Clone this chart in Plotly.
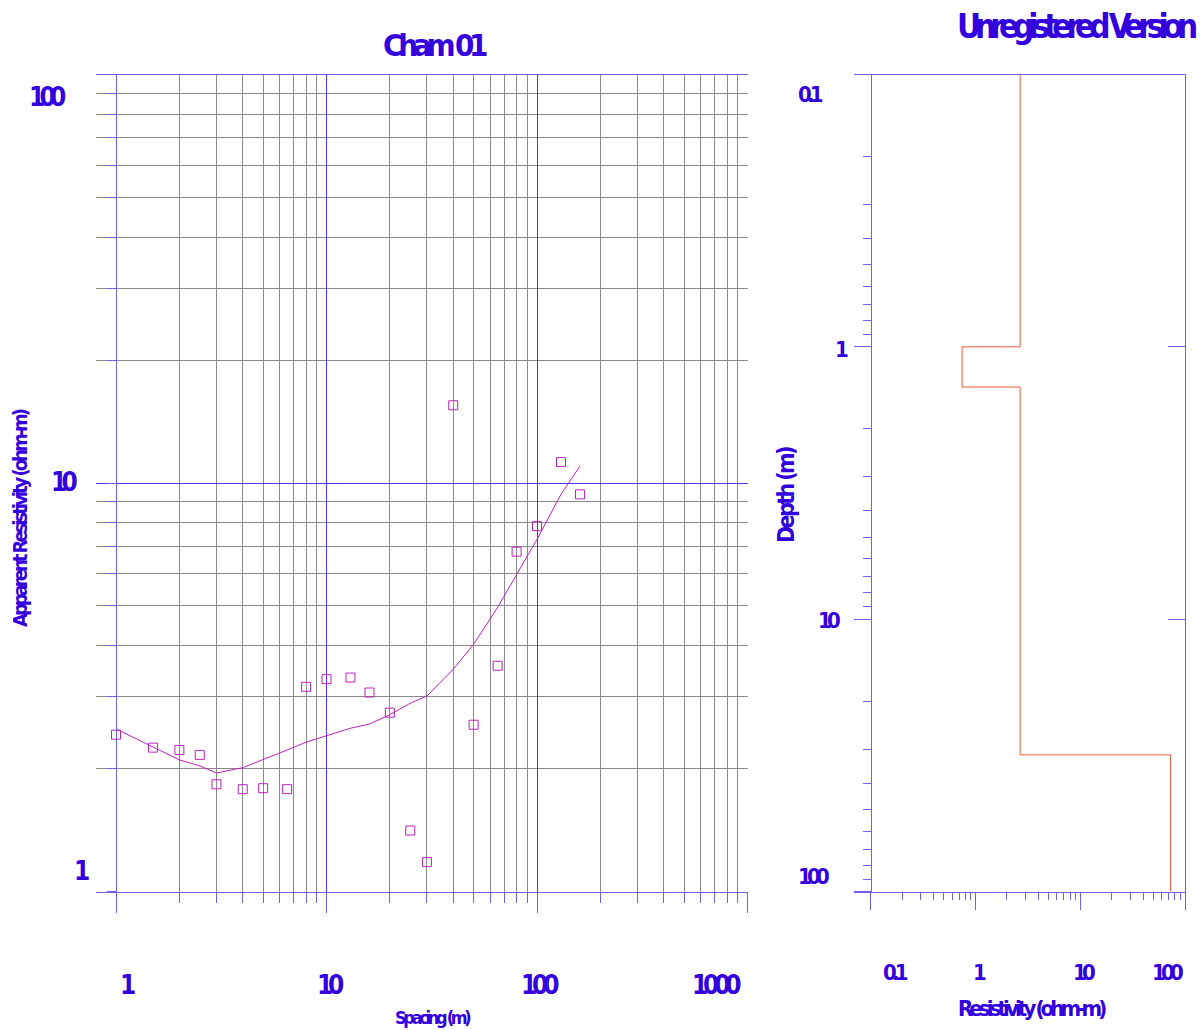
import plotly.graph_objects as go

# ---------------- data ----------------
spacing = [1, 1.5, 2, 2.5, 3, 4, 5, 6.5, 8, 10, 13, 16, 20, 25, 30, 40, 50, 65, 80, 100, 130, 160]
observed = [2.42, 2.25, 2.22, 2.16, 1.83, 1.78, 1.79, 1.78, 3.17, 3.31, 3.34, 3.07, 2.74, 1.41,
            1.18, 15.5, 2.56, 3.57, 6.79, 7.84, 11.25, 9.38]
calculated = [2.50, 2.26, 2.10, 2.03, 1.95, 2.01, 2.10, 2.22, 2.32, 2.41, 2.51, 2.57, 2.71, 2.89,
              3.01, 3.50, 4.03, 4.96, 5.98, 7.28, 9.38, 11.0]

layer_resistivity = [2.67, 0.746, 2.67, 72.8]
layer_bottom_depth = [1.0, 1.405, 31.5]
depth_top, depth_bottom = 0.1, 100

left_x_ticks = [1, 10, 100, 1000]
left_y_ticks = [1, 10, 100]
right_x_ticks = [0.1, 1, 10, 100]
right_y_ticks = [0.1, 1, 10, 100]

# ---------------- style ----------------
W, H = 1201, 1030
TXT = "#3300DD"
AX = "#6F5FEF"
GRID_MAJ = "#4433FF"
GRID_MIN = "#8a8a8a"
FIT = "#BB22BB"
MODEL = "#EE5A3C"
FONT = "DejaVu Sans Condensed, Liberation Sans Narrow, sans-serif"


def px(x):
    return x / W


def py(y):
    return 1 - y / H


def minors(decades, lo=2, hi=9):
    return [d * k for d in decades for k in range(lo, hi + 1)]


# step profile for the layered model
mx, my = [], []
tops = [depth_top] + layer_bottom_depth
bots = layer_bottom_depth + [depth_bottom]
for r, t, b in zip(layer_resistivity, tops, bots):
    mx += [r, r]
    my += [t, b]

fig = go.Figure()
fig.add_trace(go.Scatter(x=spacing, y=calculated, mode="lines",
                         line=dict(color=FIT, width=1), xaxis="x", yaxis="y",
                         hoverinfo="skip", showlegend=False))
fig.add_trace(go.Scatter(x=spacing, y=observed, mode="markers",
                         marker=dict(symbol="square-open", size=9, color=FIT,
                                     line=dict(width=1, color=FIT)),
                         xaxis="x", yaxis="y", showlegend=False))
fig.add_trace(go.Scatter(x=mx, y=my, mode="lines", line=dict(color=MODEL, width=1),
                         xaxis="x2", yaxis="y2", showlegend=False))
fig.add_trace(go.Scatter(x=mx, y=my, mode="lines", line=dict(color=MODEL, width=1),
                         opacity=0, xaxis="x2", yaxis="y3", showlegend=False, hoverinfo="skip"))

y_dom = [py(891.5), py(74.5)]

fig.update_layout(
    width=W, height=H, margin=dict(l=0, r=0, t=0, b=0),
    paper_bgcolor="white", plot_bgcolor="white", showlegend=False,
    xaxis=dict(type="log", domain=[px(96), px(747.5)], range=[-0.095, 3.0], anchor="y",
               showline=True, linecolor=AX, linewidth=1, mirror=True,
               ticks="outside", tickvals=left_x_ticks, ticklen=20, tickcolor=AX, tickwidth=1,
               showticklabels=False, showgrid=True, gridcolor=GRID_MAJ, gridwidth=1,
               zeroline=False,
               minor=dict(tickvals=minors([1, 10, 100]), ticks="outside", ticklen=10,
                          tickcolor=AX, showgrid=True, gridcolor=GRID_MIN, gridwidth=1)),
    yaxis=dict(type="log", domain=y_dom, range=[0, 2], anchor="free", position=px(116),
               showline=True, linecolor=AX, linewidth=1,
               ticks="outside", tickvals=left_y_ticks, ticklen=9, tickcolor=AX,
               showticklabels=False, showgrid=True, gridcolor=GRID_MAJ, gridwidth=1,
               zeroline=False,
               minor=dict(tickvals=minors([1, 10]), ticks="outside", ticklen=9,
                          tickcolor=AX, showgrid=True, gridcolor=GRID_MIN, gridwidth=1)),
    xaxis2=dict(type="log", domain=[px(854), px(1185)], range=[-1.159, 2.0], anchor="y2",
                showline=True, linecolor=AX, linewidth=1, mirror=True,
                ticks="outside", tickvals=right_x_ticks, ticklen=17, tickcolor=AX,
                showticklabels=False, showgrid=False, zeroline=False,
                minor=dict(tickvals=minors([0.1, 1, 10]), ticks="outside", ticklen=7,
                           tickcolor=AX, showgrid=False)),
    yaxis2=dict(type="log", domain=y_dom, range=[2, -1], anchor="free", position=px(870.7),
                showline=True, linecolor=AX, linewidth=1,
                ticks="outside", tickvals=right_y_ticks, ticklen=17, tickcolor=AX,
                showticklabels=False, showgrid=False, zeroline=False,
                minor=dict(tickvals=minors([0.1, 1, 10]), ticks="outside", ticklen=8,
                           tickcolor=AX, showgrid=False)),
    yaxis3=dict(type="log", overlaying="y2", side="right", anchor="x2", range=[2, -1],
                showline=True, linecolor=AX, linewidth=1,
                ticks="inside", tickvals=right_y_ticks, ticklen=17, tickcolor=AX,
                showticklabels=False, showgrid=False, zeroline=False),
)


def t(s, ls):
    return f'<span style="letter-spacing:{ls}px">{s}</span>'


def ann(text, x, y, size, ls=0, angle=0):
    fig.add_annotation(text=t(text, ls), x=px(x), y=py(y), xref="paper", yref="paper",
                       xanchor="center", yanchor="middle", showarrow=False, textangle=angle,
                       font=dict(family=FONT, size=size, color=TXT, weight="bold"))


# titles
ann("Cham 01", 435, 45, 31, -5.2)
ann("Unregistered Version", 1076, 27, 33, -6.0)

# left panel tick labels
for lab, (x, y) in zip(["100", "10", "1"], [(47, 97), (64, 482), (81, 871)]):
    ann(lab, x, y, 26, -5.8)
for lab, x in zip(["1", "10", "100", "1000"], [127, 330, 540, 716]):
    ann(lab, x, 985, 26, -5.2)

# right panel tick labels
for lab, (x, y) in zip(["0.1", "1", "10", "100"], [(810, 95), (841, 349), (829, 620), (813, 876)]):
    ann(lab, x, y, 22, -4.8)
for lab, x in zip(["0.1", "1", "10", "100"], [895.5, 979, 1084, 1167]):
    ann(lab, x, 972, 22, -4.8)

# axis titles
ann("Apparent Resistivity (ohm-m)", 20, 518, 20, -3.0, -90)
ann("Spacing (m)", 433, 1017, 18, -3.3)
ann("Depth (m)", 786, 495, 23, -2.6, -90)
ann("Resistivity (ohm-m)", 1032, 1008, 22, -3.9)

fig.write_html("out.html")
